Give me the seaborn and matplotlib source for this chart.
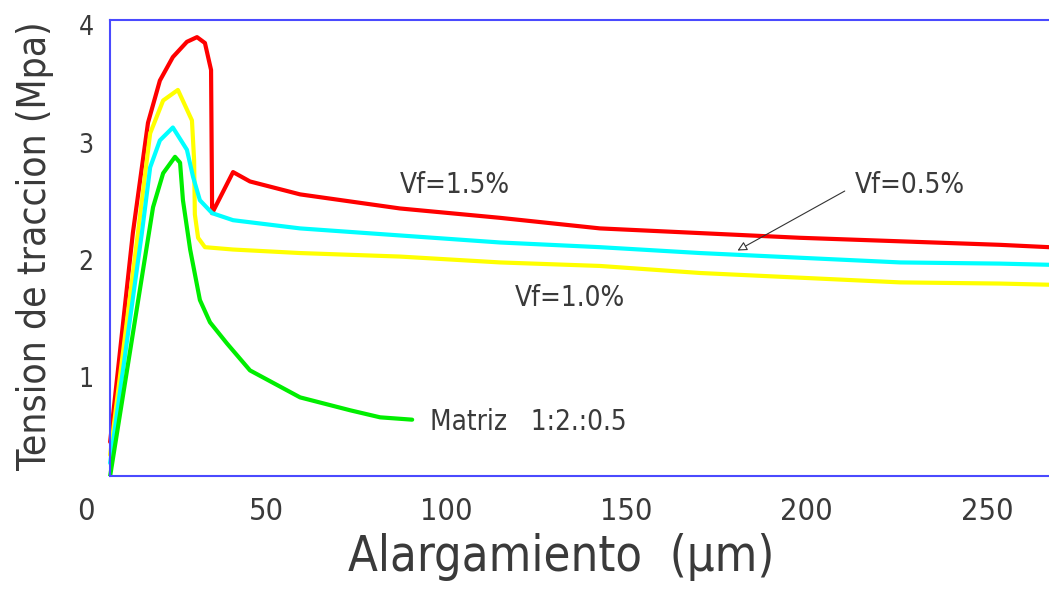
import numpy as np
import matplotlib
matplotlib.use("Agg")
import matplotlib.pyplot as plt
import pandas as pd
import seaborn as sns

# curve data (x in um, y in MPa)
red_x = [6.7, 13.0, 17.2, 20.5, 24.1, 28.0, 30.8, 33.0, 34.7, 35.0, 40.8, 45.5,
         59.4, 87.1, 114.9, 142.6, 170.4, 198.1, 225.9, 253.6, 267.2]
red_y = [0.45, 2.23, 3.17, 3.53, 3.73, 3.86, 3.90, 3.85, 3.62, 2.40, 2.75, 2.67,
         2.56, 2.44, 2.36, 2.27, 2.23, 2.19, 2.16, 2.13, 2.11]

yellow_x = [6.7, 14.4, 17.8, 21.4, 25.5, 29.4, 30.0, 30.2, 31.1, 33.0, 40.8,
            59.4, 87.1, 114.9, 142.6, 170.4, 198.1, 225.9, 253.6, 267.2]
yellow_y = [0.34, 2.23, 3.08, 3.36, 3.45, 3.19, 2.85, 2.39, 2.19, 2.11, 2.09,
            2.06, 2.03, 1.98, 1.95, 1.89, 1.85, 1.81, 1.80, 1.79]

cyan_x = [6.7, 15.5, 17.8, 20.5, 24.1, 28.0, 29.7, 31.6, 35.0, 40.8, 59.4, 87.1,
          114.9, 142.6, 170.4, 198.1, 225.9, 253.6, 267.2]
cyan_y = [0.27, 2.23, 2.79, 3.02, 3.13, 2.94, 2.71, 2.51, 2.40, 2.34, 2.27, 2.21,
          2.15, 2.11, 2.06, 2.02, 1.98, 1.97, 1.96]

green_x = [6.7, 18.6, 21.4, 24.7, 26.1, 26.9, 28.9, 31.6, 34.4, 39.1, 45.5,
           59.4, 73.3, 81.6, 90.5]
green_y = [0.16, 2.45, 2.74, 2.88, 2.83, 2.51, 2.09, 1.66, 1.47, 1.29, 1.06,
           0.83, 0.72, 0.66, 0.64]

x_ticks = [0, 50, 100, 150, 200, 250]
y_ticks = [1, 2, 3, 4]

sns.set_style("white")
plt.rcParams['font.family'] = ['DejaVu Sans']
plt.rcParams['font.stretch'] = 'condensed'
txt = '#3a3a3a'
blue = '#4a4aff'

fig = plt.figure(figsize=(10.49, 5.90), dpi=100)
ax = fig.add_axes([86 / 1049, 114 / 590, 963 / 1049, 456 / 590])

curves = [(red_x, red_y, '#ff0000'), (yellow_x, yellow_y, '#ffff00'),
          (cyan_x, cyan_y, '#00ffff'), (green_x, green_y, '#00ee00')]
for xs, ys, c in curves:
    df = pd.DataFrame({'x': xs, 'y': ys})
    sns.lineplot(data=df, x='x', y='y', ax=ax, color=c, lw=3, sort=False,
                 estimator=None, solid_joinstyle='round', solid_capstyle='round')

ax.set_xlim(0, 267.2)
ax.set_ylim(0.16, 4.046)
ax.set_xticks(x_ticks)
ax.set_yticks(y_ticks)

ax.spines['left'].set_position(('data', 6.7))
ax.spines['right'].set_visible(False)
for s in ['left', 'top', 'bottom']:
    ax.spines[s].set_color(blue)
    ax.spines[s].set_linewidth(1.5)
ax.spines['top'].set_bounds(6.7, 267.2)
ax.spines['bottom'].set_bounds(6.7, 267.2)

ax.tick_params(axis='x', length=0, pad=15, labelsize=22, labelcolor=txt)
ax.tick_params(axis='y', length=0, pad=12, labelsize=19, labelcolor=txt)

ax.set_xlabel('Alargamiento  (µm)', fontsize=35, color=txt)
ax.xaxis.set_label_coords(0.493, -0.125)
ax.set_ylabel('Tension de traccion (Mpa)', fontsize=28, color=txt)
ax.yaxis.set_label_coords(-0.033, 0.505)

ax.text(87.1, 2.64, 'Vf=1.5%', fontsize=20, color=txt, va='center')
ax.text(213.4, 2.64, 'Vf=0.5%', fontsize=20, color=txt, va='center')
ax.text(119.0, 1.68, 'Vf=1.0%', fontsize=20, color=txt, va='center')
ax.text(95.4, 0.62, 'Matriz   1:2.:0.5', fontsize=20, color=txt, va='center')
ax.annotate('', xy=(180.1, 2.07), xytext=(211.2, 2.60),
            arrowprops=dict(arrowstyle='-|>', color='#333333', lw=0.8,
                            fc='white', mutation_scale=14))

ax.set_facecolor('white')
fig.savefig('out.png', dpi=100, facecolor='white')
